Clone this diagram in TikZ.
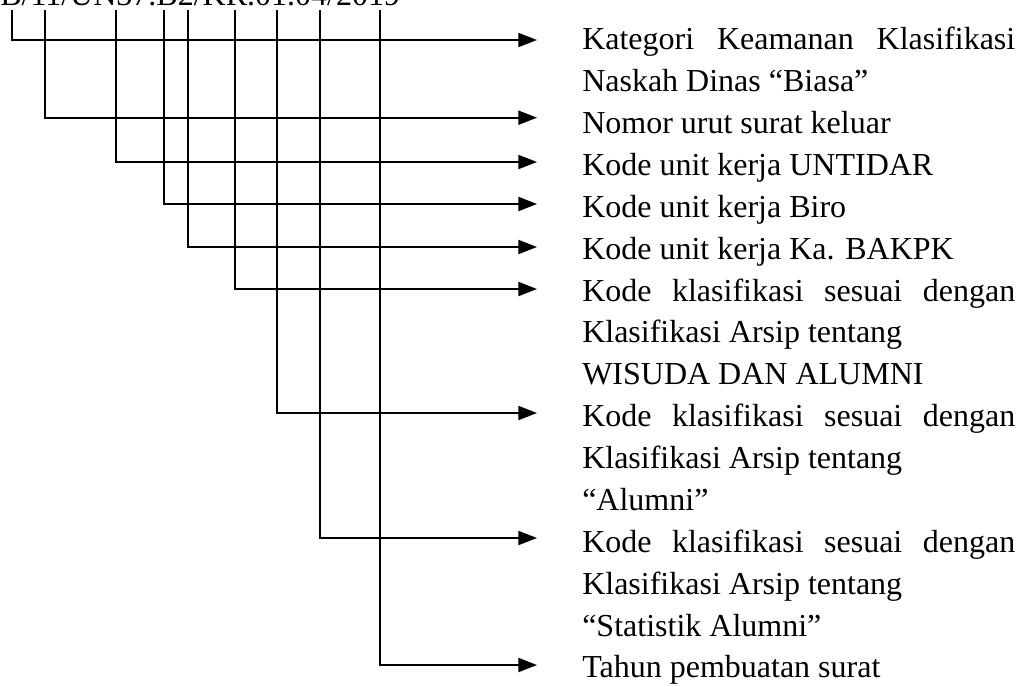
\documentclass[tikz,border=0pt]{standalone}
\usepackage{fontspec}
\setmainfont{Liberation Serif}
\usetikzlibrary{arrows.meta}
\begin{document}
\begin{tikzpicture}[x=0.75pt,y=-0.75pt,
  conn/.style={line width=1.5pt,-{Triangle[length=14pt,width=10.5pt]}},
  lbl/.style={anchor=base west,inner sep=0pt,font=\fontsize{24}{30}\selectfont},
]
\useasboundingbox (0,0) rectangle (1019,686);
\node[lbl] (code) at (0,5) {B/11/UN37.B2/KR.01.04/2019};

% text lines
\node[lbl] (t1) at (582,49.8) {\hbox to 324.75pt{Kategori\hfill Keamanan\hfill Klasifikasi}};
\node[lbl] (t1b) at (582,91.7) {Naskah Dinas “Biasa”};
\node[lbl] (t2) at (582,133.5) {Nomor urut surat keluar};
\node[lbl] (t3) at (582,175.4) {Kode unit kerja UNTIDAR};
\node[lbl] (t4) at (582,217.3) {Kode unit kerja Biro};
\node[lbl] (t5) at (582,259.2) {Kode unit kerja Ka. BAKPK};
\node[lbl] (t6) at (582,301.0) {\hbox to 324.75pt{Kode\hfill klasifikasi\hfill sesuai\hfill dengan}};
\node[lbl] (t6b) at (582,342.9) {Klasifikasi Arsip tentang};
\node[lbl] (t6c) at (582,384.8) {WISUDA DAN ALUMNI};
\node[lbl] (t7) at (582,426.6) {\hbox to 324.75pt{Kode\hfill klasifikasi\hfill sesuai\hfill dengan}};
\node[lbl] (t7b) at (582,468.5) {Klasifikasi Arsip tentang};
\node[lbl] (t7c) at (582,510.4) {“Alumni”};
\node[lbl] (t8) at (582,552.2) {\hbox to 324.75pt{Kode\hfill klasifikasi\hfill sesuai\hfill dengan}};
\node[lbl] (t8b) at (582,594.1) {Klasifikasi Arsip tentang};
\node[lbl] (t8c) at (582,636.0) {“Statistik Alumni”};
\node[lbl] (t9) at (582,677.9) {Tahun pembuatan surat};

% start points under the code
\coordinate (s1) at (12,10);
\coordinate (s2) at (45,10);
\coordinate (s3) at (116,10);
\coordinate (s4) at (164,10);
\coordinate (s5) at (188,10);
\coordinate (s6) at (235,10);
\coordinate (s7) at (277,10);
\coordinate (s8) at (320,10);
\coordinate (s9) at (380,10);

% arrow tips
\coordinate (e1) at (537,40);
\coordinate (e2) at (537,117.7);
\coordinate (e3) at (537,162);
\coordinate (e4) at (537,204);
\coordinate (e5) at (537,247);
\coordinate (e6) at (537,289);
\coordinate (e7) at (537,413);
\coordinate (e8) at (537,538);
\coordinate (e9) at (537,665);

\foreach \i in {1,...,9} {
  \draw[conn] (s\i) |- (e\i);
}
\end{tikzpicture}
\end{document}
